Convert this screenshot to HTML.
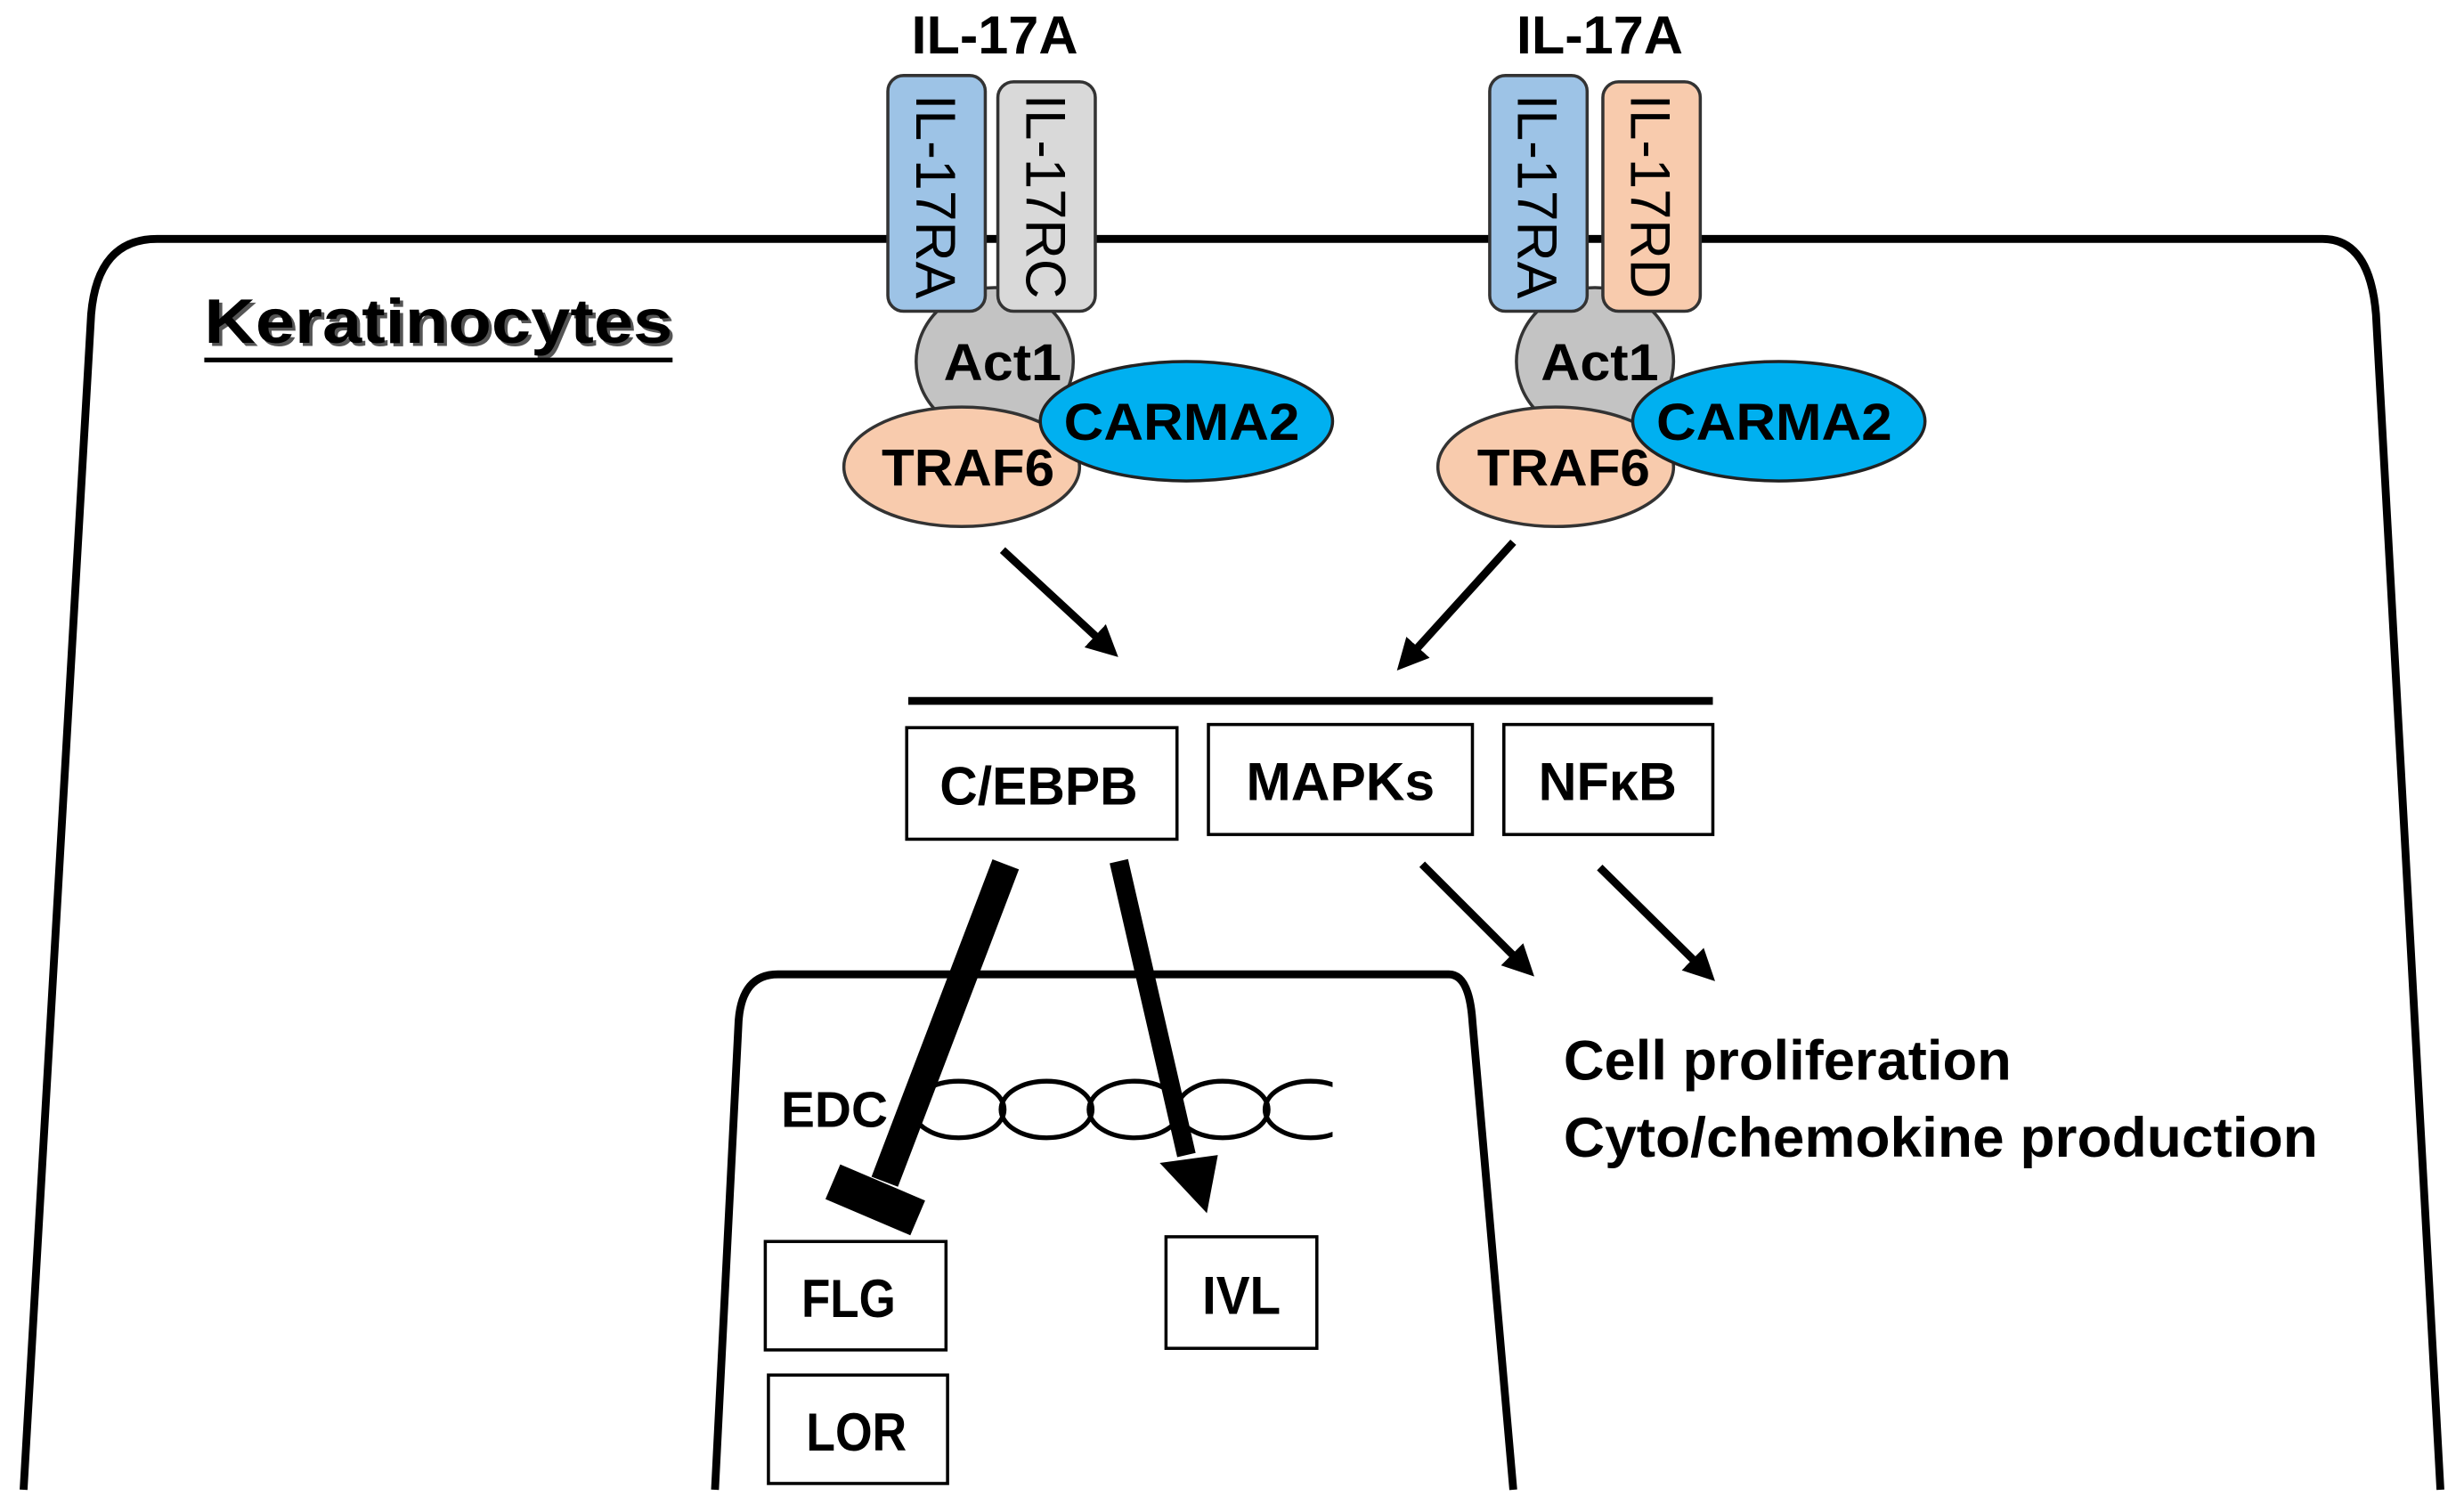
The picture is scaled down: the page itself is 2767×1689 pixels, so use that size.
<!DOCTYPE html>
<html><head><meta charset="utf-8"><style>html,body{margin:0;padding:0;background:#fff}svg{display:block}</style></head>
<body>
<svg width="2767" height="1689" viewBox="0 0 1568 957" xmlns="http://www.w3.org/2000/svg" font-family="Liberation Sans, sans-serif">
<defs>
<marker id="ah" markerWidth="4" markerHeight="4" refX="2.2" refY="2" orient="auto" markerUnits="strokeWidth">
<path d="M0,0 L4,2 L0,4 z" fill="#000"/></marker>
</defs>
<path d="M15,948 L58,200 Q62,152 100,152 L1478,152 Q1508,152 1512,200 L1553,948" fill="none" stroke="#000" stroke-width="5"/>
<text x="132" y="220" font-size="40" font-weight="bold" fill="#555" textLength="298" lengthAdjust="spacingAndGlyphs">Keratinocytes</text>
<text x="130" y="218" font-size="40" font-weight="bold" fill="#000" textLength="298" lengthAdjust="spacingAndGlyphs">Keratinocytes</text>
<line x1="130" y1="229" x2="428" y2="229" stroke="#000" stroke-width="3"/>

<g>
<text x="633" y="34" font-size="34" font-weight="bold" text-anchor="middle" textLength="106" lengthAdjust="spacingAndGlyphs">IL-17A</text>
<ellipse cx="633" cy="230" rx="50" ry="47" fill="#c3c3c3" stroke="#333" stroke-width="2"/>
<rect x="565" y="48" width="62" height="150" rx="10" fill="#9dc3e6" stroke="#333" stroke-width="2"/>
<rect x="635" y="52" width="62" height="146" rx="10" fill="#d9d9d9" stroke="#333" stroke-width="2"/>
<text transform="translate(583,60) rotate(90)" font-size="36" textLength="130" lengthAdjust="spacingAndGlyphs">IL-17RA</text>
<text transform="translate(653,60) rotate(90)" font-size="36" textLength="130" lengthAdjust="spacingAndGlyphs">IL-17RC</text>
<text x="638" y="242" font-size="33" font-weight="bold" text-anchor="middle" textLength="75" lengthAdjust="spacingAndGlyphs">Act1</text>
<ellipse cx="612" cy="297" rx="75" ry="38" fill="#f8cbad" stroke="#333" stroke-width="2"/>
<ellipse cx="755" cy="268" rx="93" ry="38" fill="#00b0f0" stroke="#222" stroke-width="2"/>
<text x="616" y="309" font-size="33" font-weight="bold" text-anchor="middle" textLength="110" lengthAdjust="spacingAndGlyphs">TRAF6</text>
<text x="752" y="280" font-size="33" font-weight="bold" text-anchor="middle" textLength="150" lengthAdjust="spacingAndGlyphs">CARMA2</text>
</g>
<g>
<text x="1018" y="34" font-size="34" font-weight="bold" text-anchor="middle" textLength="106" lengthAdjust="spacingAndGlyphs">IL-17A</text>
<ellipse cx="1015" cy="230" rx="50" ry="47" fill="#c3c3c3" stroke="#333" stroke-width="2"/>
<rect x="948" y="48" width="62" height="150" rx="10" fill="#9dc3e6" stroke="#333" stroke-width="2"/>
<rect x="1020" y="52" width="62" height="146" rx="10" fill="#f8cbad" stroke="#333" stroke-width="2"/>
<text transform="translate(966,60) rotate(90)" font-size="36" textLength="130" lengthAdjust="spacingAndGlyphs">IL-17RA</text>
<text transform="translate(1038,60) rotate(90)" font-size="36" textLength="130" lengthAdjust="spacingAndGlyphs">IL-17RD</text>
<text x="1018" y="242" font-size="33" font-weight="bold" text-anchor="middle" textLength="75" lengthAdjust="spacingAndGlyphs">Act1</text>
<ellipse cx="990" cy="297" rx="75" ry="38" fill="#f8cbad" stroke="#333" stroke-width="2"/>
<ellipse cx="1132" cy="268" rx="93" ry="38" fill="#00b0f0" stroke="#222" stroke-width="2"/>
<text x="995" y="309" font-size="33" font-weight="bold" text-anchor="middle" textLength="110" lengthAdjust="spacingAndGlyphs">TRAF6</text>
<text x="1129" y="280" font-size="33" font-weight="bold" text-anchor="middle" textLength="150" lengthAdjust="spacingAndGlyphs">CARMA2</text>
</g>

<line x1="638" y1="350" x2="705" y2="412" stroke="#000" stroke-width="5" marker-end="url(#ah)"/>
<line x1="963" y1="345" x2="895" y2="420" stroke="#000" stroke-width="5" marker-end="url(#ah)"/>
<line x1="578" y1="446" x2="1090" y2="446" stroke="#000" stroke-width="5"/>

<g fill="#fff" stroke="#000" stroke-width="2">
<rect x="577" y="463" width="172" height="71"/>
<rect x="769" y="461" width="168" height="70"/>
<rect x="957" y="461" width="133" height="70"/>
</g>
<g font-size="34" font-weight="bold" text-anchor="middle">
<text x="661" y="512" textLength="126" lengthAdjust="spacingAndGlyphs">C/EBPB</text>
<text x="853" y="509" textLength="120" lengthAdjust="spacingAndGlyphs">MAPKs</text>
<text x="1023" y="509" textLength="88" lengthAdjust="spacingAndGlyphs">NFκB</text>
</g>

<path d="M455,948 L470,650 Q472,620 495,620 L922,620 Q935,620 937,650 L963,948" fill="none" stroke="#000" stroke-width="5"/>
<text x="497" y="717" font-size="32" font-weight="bold" textLength="68" lengthAdjust="spacingAndGlyphs">EDC</text>
<svg x="570" y="683" width="278" height="46" overflow="hidden">
<g fill="none" stroke="#000" stroke-width="3">
<ellipse cx="40" cy="23" rx="29" ry="18"/>
<ellipse cx="96" cy="23" rx="29" ry="18"/>
<ellipse cx="152" cy="23" rx="29" ry="18"/>
<ellipse cx="208" cy="23" rx="29" ry="18"/>
<ellipse cx="264" cy="23" rx="29" ry="18"/>
<ellipse cx="320" cy="23" rx="29" ry="18"/>
</g></svg>

<line x1="640" y1="550" x2="563" y2="752" stroke="#000" stroke-width="18"/>
<line x1="530" y1="752" x2="584" y2="775" stroke="#000" stroke-width="24"/>
<line x1="712" y1="548" x2="755" y2="735" stroke="#000" stroke-width="12"/>
<path d="M738,740 L775,735 L768,772 z" fill="#000"/>

<g fill="#fff" stroke="#000" stroke-width="2">
<rect x="487" y="790" width="115" height="69"/>
<rect x="742" y="787" width="96" height="71"/>
<rect x="489" y="875" width="114" height="69"/>
</g>
<g font-size="34" font-weight="bold" text-anchor="middle">
<text x="540" y="838" textLength="60" lengthAdjust="spacingAndGlyphs">FLG</text>
<text x="790" y="836" textLength="50" lengthAdjust="spacingAndGlyphs">IVL</text>
<text x="545" y="923" textLength="64" lengthAdjust="spacingAndGlyphs">LOR</text>
</g>

<line x1="905" y1="550" x2="970" y2="615" stroke="#000" stroke-width="5" marker-end="url(#ah)"/>
<line x1="1018" y1="552" x2="1085" y2="618" stroke="#000" stroke-width="5" marker-end="url(#ah)"/>

<text x="995" y="687" font-size="36" font-weight="bold" textLength="285" lengthAdjust="spacingAndGlyphs">Cell proliferation</text>
<text x="995" y="736" font-size="36" font-weight="bold" textLength="480" lengthAdjust="spacingAndGlyphs">Cyto/chemokine production</text>
</svg>
</body></html>
